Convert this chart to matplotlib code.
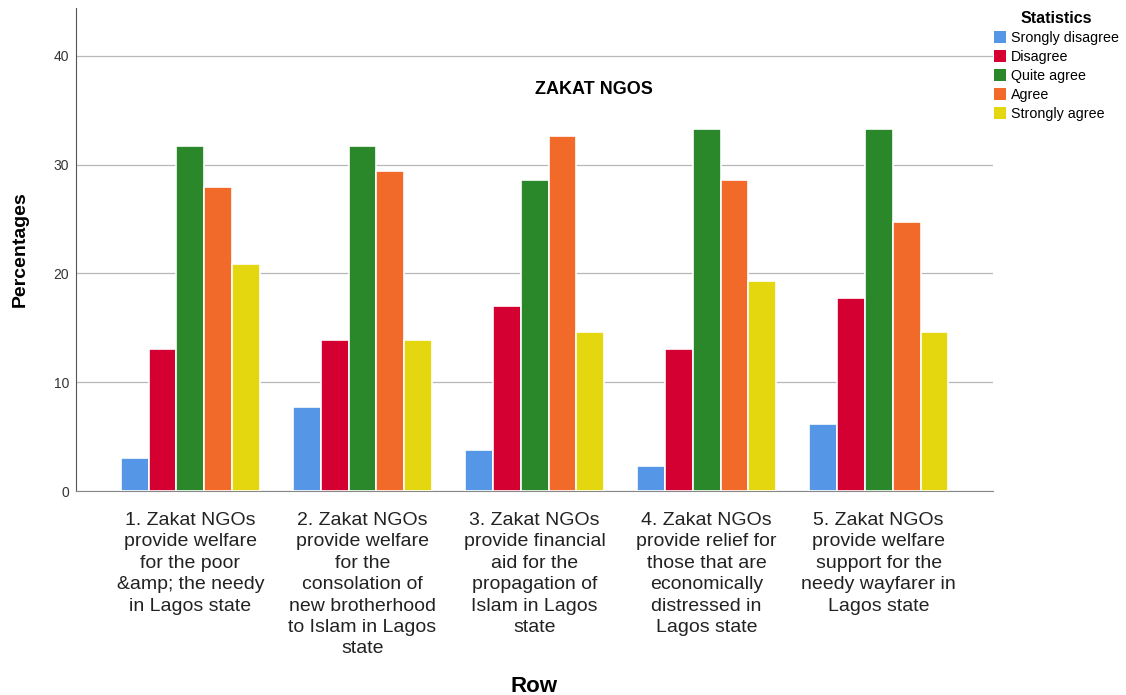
import numpy as np
import matplotlib.pyplot as plt
from matplotlib.patches import Patch

plt.rcParams['font.family'] = ['Liberation Sans', 'DejaVu Sans']

# Данные
categories = [
    "1. Zakat NGOs\nprovide welfare\nfor the poor\n&amp; the needy\nin Lagos state",
    "2. Zakat NGOs\nprovide welfare\nfor the\nconsolation of\nnew brotherhood\nto Islam in Lagos\nstate",
    "3. Zakat NGOs\nprovide financial\naid for the\npropagation of\nIslam in Lagos\nstate",
    "4. Zakat NGOs\nprovide relief for\nthose that are\neconomically\ndistressed in\nLagos state",
    "5. Zakat NGOs\nprovide welfare\nsupport for the\nneedy wayfarer in\nLagos state",
]
series_names = ["Srongly disagree", "Disagree", "Quite agree", "Agree", "Strongly agree"]
strongly_disagree = [3.0, 7.7, 3.8, 2.3, 6.2]
disagree = [13.1, 13.9, 17.0, 13.1, 17.7]
quite_agree = [31.7, 31.7, 28.6, 33.3, 33.3]
agree = [27.9, 29.4, 32.6, 28.6, 24.7]
strongly_agree = [20.9, 13.9, 14.6, 19.3, 14.6]
colors = ['#5696E6', '#D50032', '#2A882A', '#F26A2A', '#E4D70F']

values = [strongly_disagree, disagree, quite_agree, agree, strongly_agree]

fig = plt.figure(figsize=(11.26, 6.95), dpi=100)
ax = fig.add_axes([0.0675, 0.2935, 0.8145, 0.695])

x = np.arange(len(categories))
slot = 0.162
for i, (vals, col) in enumerate(zip(values, colors)):
    ax.bar(x + (i - 2) * slot, vals, width=slot, color=col,
           edgecolor='white', linewidth=1.2, zorder=3)

ax.set_xlim(-0.665, 4.665)
ax.set_ylim(0, 44.4)
ax.set_yticks([0, 10, 20, 30, 40])
ax.tick_params(axis='y', length=0, labelsize=10, pad=5, labelcolor='#333333')
ax.set_xticks(x)
ax.set_xticklabels(categories, fontsize=14, linespacing=1.34, color='#222222')
ax.tick_params(axis='x', length=0, pad=15)
ax.grid(axis='y', color='#b8b8b8', linewidth=0.9, zorder=0)

for s in ['top', 'right']:
    ax.spines[s].set_visible(False)
ax.spines['left'].set_color('#555555')
ax.spines['bottom'].set_color('#888888')

ax.set_ylabel('Percentages', fontsize=14, fontweight='bold', labelpad=18)
ax.text(0.565, 0.832, 'ZAKAT NGOS', transform=ax.transAxes, ha='center',
        va='center', fontsize=13, fontweight='bold')
fig.text(0.474, 0.004, 'Row', ha='center', va='baseline', fontsize=16, fontweight='bold')

handles = [Patch(facecolor=c, label=n) for c, n in zip(colors, series_names)]
leg = ax.legend(handles=handles, title='Statistics', loc='upper left',
                bbox_to_anchor=(0.998, 1.0), frameon=False, fontsize=10.3,
                title_fontproperties={'weight': 'bold', 'size': 11.5},
                handlelength=0.85, handleheight=0.85, handletextpad=0.3,
                labelspacing=0.35, borderaxespad=0.0, borderpad=0.2)

fig.savefig('out.png', dpi=100)
